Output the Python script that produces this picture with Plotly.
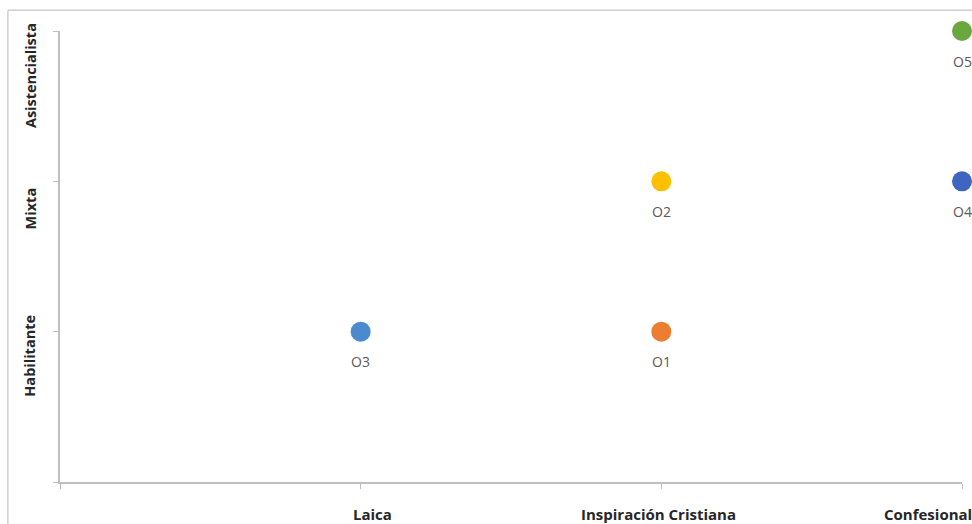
import plotly.graph_objects as go

# Organisations: position on x (orientation) and y (model)
names = ["O1", "O2", "O3", "O4", "O5"]
x_vals = [2, 2, 1, 3, 3]
y_vals = [1, 2, 1, 2, 3]
colors = ["#ED7D31", "#FFC000", "#4A8BD0", "#3E66C0", "#6AA73F"]

x_cats = ["Laica", "Inspiración Cristiana", "Confesional"]
x_cat_pos = [1.04, 1.99, 3.0]
y_cats = ["Habilitante", "Mixta", "Asistencialista"]
y_cat_pos = [0.84, 1.82, 2.70]

FONT = "Open Sans, Liberation Sans, sans-serif"

fig = go.Figure()
for n, xv, yv, c in zip(names, x_vals, y_vals, colors):
    fig.add_trace(go.Scatter(
        x=[xv], y=[yv], mode="markers",
        marker=dict(size=20, color=c),
        cliponaxis=False, showlegend=False, hoverinfo="skip",
    ))
    fig.add_annotation(x=xv, y=yv, xref="x", yref="y", yshift=-30, text=n,
                       showarrow=False, xanchor="center", yanchor="middle",
                       font=dict(family=FONT, size=14, color="#595959"))

# Category labels on both axes
for lab, xp in zip(x_cats, x_cat_pos):
    if xp >= 3:
        # last label starts just left of the final tick and runs past the edge
        fig.add_annotation(x=0.911, y=0, xref="paper", yref="y", yshift=-32, text=lab,
                           showarrow=False, xanchor="left", yanchor="middle",
                           font=dict(family=FONT, size=15, color="#262626", weight="bold"))
    else:
        fig.add_annotation(x=xp, y=0, xref="x", yref="y", yshift=-32, text=lab,
                           showarrow=False, xanchor="center", yanchor="middle",
                           font=dict(family=FONT, size=15, color="#262626", weight="bold"))
for lab, yp in zip(y_cats, y_cat_pos):
    fig.add_annotation(x=0, y=yp, xref="x", yref="y", xshift=-30, text=lab,
                       textangle=-90, showarrow=False, xanchor="center", yanchor="middle",
                       font=dict(family=FONT, size=14.5, color="#262626", weight="bold"))

# Outer frame (top and left edges)
fig.add_shape(type="line", xref="paper", yref="paper", x0=-0.0578, x1=1.2, y0=1.046, y1=1.046,
              line=dict(color="#D0D0D0", width=1.5))
fig.add_shape(type="line", xref="paper", yref="paper", x0=-0.0578, x1=-0.0578, y0=-0.2, y1=1.046,
              line=dict(color="#D0D0D0", width=1.5))

axis_common = dict(showgrid=False, zeroline=False, showline=True, linecolor="#BFBFBF", linewidth=1.5,
                   ticks="outside", ticklen=5, tickcolor="#BFBFBF", showticklabels=False,
                   range=[0, 3], fixedrange=True)
fig.update_xaxes(tickvals=[0, 1, 2, 3], **axis_common)
fig.update_yaxes(tickvals=[0, 1, 2, 3], **axis_common)

fig.update_layout(
    width=972, height=524,
    margin=dict(l=60, r=10, t=31, b=42),
    plot_bgcolor="white", paper_bgcolor="white",
)

fig.write_html("out.html")
